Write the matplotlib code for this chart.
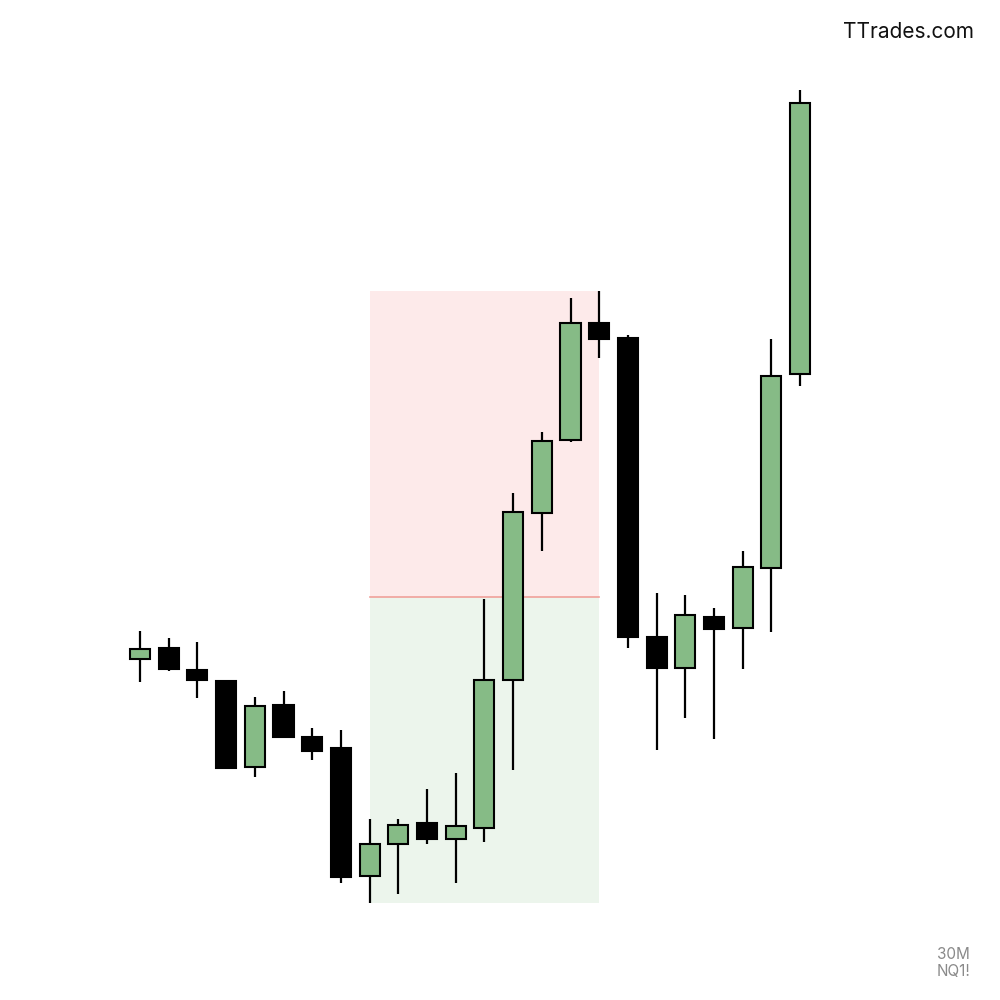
import matplotlib
matplotlib.use("Agg")
import matplotlib.pyplot as plt
from matplotlib.patches import Rectangle

# === Candle data (30M NQ1!, price units) ===
opens  = [341, 352, 330, 319, 233, 295, 263, 252, 124, 156, 177, 161, 172, 320, 487, 560, 677, 662, 363, 332, 383, 372, 432, 626]
highs  = [369, 362, 358, 320, 303, 309, 272, 270, 181, 181, 211, 227, 401, 507, 568, 702, 709, 665, 407, 405, 392, 449, 661, 910]
lows   = [318, 329, 302, 232, 223, 262, 240, 117,  97, 106, 156, 117, 158, 230, 449, 558, 642, 352, 250, 282, 261, 331, 368, 614]
closes = [351, 331, 320, 232, 294, 263, 249, 123, 156, 175, 161, 174, 320, 488, 559, 677, 661, 363, 332, 385, 371, 433, 624, 897]

# range box: from candle 9 low to candle 17 high
range_start = 8
range_end = 16

green = "#86bb86"
spacing = 28.7
first_x = 140
body_w = 0.70

fig = plt.figure(figsize=(10, 10), dpi=100)
ax = fig.add_axes([0, 0, 1, 1])
left = -first_x / spacing
ax.set_xlim(left, left + 1000 / spacing)
ax.set_ylim(0, 1000)
ax.axis("off")

# === Premium / discount range ===
top = highs[range_end]
bottom = lows[range_start]
mid = (top + bottom) / 2
ax.add_patch(Rectangle((range_start, mid), range_end - range_start, top - mid,
                       facecolor="#fdeaea", edgecolor="none", zorder=0))
ax.add_patch(Rectangle((range_start, bottom), range_end - range_start, mid - bottom,
                       facecolor="#ecf5ec", edgecolor="none", zorder=0))
ax.plot([range_start, range_end], [mid, mid], color="#f0a09a", lw=1.2, zorder=1)

# === Candles ===
for i, (o, h, l, c) in enumerate(zip(opens, highs, lows, closes)):
    up = c >= o
    ax.vlines(i, l, h, color="black", lw=1.6, zorder=2)
    ax.add_patch(Rectangle((i - body_w / 2, min(o, c)), body_w, abs(c - o),
                           facecolor=green if up else "black", edgecolor="black",
                           lw=1.5, zorder=3))

# === Labels ===
fig.text(0.974, 0.968, "TTrades.com", ha="right", va="center", fontsize=15,
         family="Inter", color="#111111")
fig.text(0.970, 0.0455, "30M", ha="right", va="center", fontsize=11,
         family="Inter", color="#8a8a8a")
fig.text(0.970, 0.0285, "NQ1!", ha="right", va="center", fontsize=11,
         family="Inter", color="#8a8a8a")

fig.savefig("out.png", dpi=100, facecolor="white")
